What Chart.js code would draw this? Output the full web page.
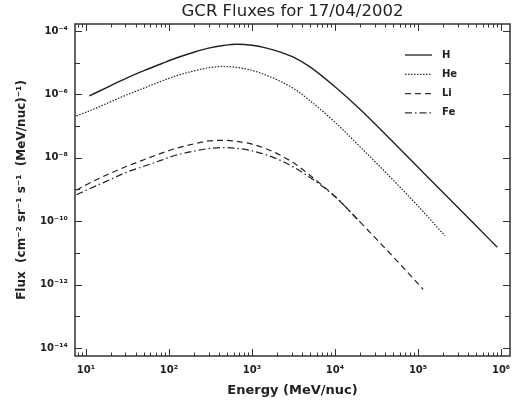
<!DOCTYPE html>
<html>
<head>
<meta charset="utf-8">
<script src="https://cdn.jsdelivr.net/npm/chart.js@4"></script>
<style>
  html, body { margin: 0; padding: 0; background: #fff; }
  canvas { display: block; }
</style>
</head>
<body>
<canvas id="Graph" width="514" height="407"></canvas>
<script>
// values (energy in MeV/nuc, flux in cm^-2 sr^-1 s^-1 (MeV/nuc)^-1)
const hEnergy = [11, 20, 30, 50, 80, 120, 200, 300, 450, 650, 1000, 1500, 2200, 3200, 5000, 1e4, 2e4, 5e4, 1e5, 2e5, 5e5, 9e5];
const hFlux = [8.9e-7, 1.9e-6, 3.16e-6, 5.6e-6, 9.1e-6, 1.38e-5, 2.14e-5, 2.88e-5, 3.47e-5, 3.8e-5, 3.55e-5, 2.88e-5, 2.14e-5, 1.48e-5, 7.4e-6, 1.74e-6, 3.4e-7, 3.16e-8, 5.0e-9, 8.1e-10, 7.2e-11, 1.5e-11];

const heEnergy = [7.7, 11, 20, 30, 50, 80, 120, 200, 300, 450, 650, 1000, 1500, 2200, 3200, 5000, 1e4, 2e4, 5e4, 1e5, 2.1e5];
const heFlux = [2.1e-7, 3.0e-7, 5.9e-7, 9.3e-7, 1.58e-6, 2.57e-6, 3.8e-6, 5.5e-6, 6.9e-6, 7.6e-6, 7.1e-6, 5.75e-6, 4.0e-6, 2.57e-6, 1.51e-6, 6.3e-7, 1.32e-7, 2.24e-8, 2.0e-9, 3.0e-10, 3.5e-11];

const liEnergy = [7.7, 11, 20, 30, 50, 80, 120, 200, 300, 450, 650, 1000, 1500, 2200, 3200, 5000, 1e4, 2e4, 5e4, 1e5, 1.15e5];
const liFlux = [9.5e-10, 1.58e-9, 3.3e-9, 5.2e-9, 8.7e-9, 1.38e-8, 1.95e-8, 2.75e-8, 3.4e-8, 3.55e-8, 3.3e-8, 2.7e-8, 1.9e-8, 1.2e-8, 6.8e-9, 2.8e-9, 6.0e-10, 9.5e-11, 7.6e-12, 1.07e-12, 7.1e-13];

const feEnergy = [7.7, 11, 20, 30, 50, 80, 120, 200, 300, 450, 650, 1000, 1500, 2200, 3200, 5000, 1e4, 2e4];
const feFlux = [6.8e-10, 1.05e-9, 2.1e-9, 3.4e-9, 5.4e-9, 8.3e-9, 1.2e-8, 1.62e-8, 1.95e-8, 2.1e-8, 2.0e-8, 1.66e-8, 1.23e-8, 8.3e-9, 5.0e-9, 2.4e-9, 6.0e-10, 9.5e-11];

const seriesNames = ['H', 'He', 'Li', 'Fe'];
const xTickValues = [1e1, 1e2, 1e3, 1e4, 1e5, 1e6];
const yTickValues = [1e-4, 1e-6, 1e-8, 1e-10, 1e-12, 1e-14];

const INK = '#222';
const SUP = { '0': '⁰', '1': '¹', '2': '²', '3': '³', '4': '⁴', '5': '⁵', '6': '⁶', '7': '⁷', '8': '⁸', '9': '⁹', '-': '⁻' };

// 10^n label with unicode superscripts
function powLabel(v) {
  const e = String(Math.round(Math.log10(v)));
  return '10' + e.split('').map(c => SUP[c]).join('');
}

function toPoints(xs, ys) {
  return xs.map((x, i) => ({ x: x, y: ys[i] }));
}

// frame box and inward ticks on all four sides, like the original plot
const frameTicks = {
  id: 'frameTicks',
  afterDatasetsDraw(chart) {
    const { ctx, chartArea: a, scales: { x, y } } = chart;
    ctx.save();
    ctx.strokeStyle = '#333';
    ctx.lineWidth = 1;
    ctx.beginPath();
    for (let d = 0; d <= 6; d++) {
      for (let m = 1; m <= 9; m++) {
        const v = m * Math.pow(10, d);
        if (v < x.min || v > x.max) continue;
        const px = Math.round(x.getPixelForValue(v)) + 0.5;
        const len = m === 1 ? 7 : 3.5;
        ctx.moveTo(px, a.bottom); ctx.lineTo(px, a.bottom - len);
        ctx.moveTo(px, a.top); ctx.lineTo(px, a.top + len);
      }
    }
    for (let e = -15; e <= -3; e++) {
      const v = Math.pow(10, e);
      if (v < y.min || v > y.max) continue;
      const py = Math.round(y.getPixelForValue(v)) + 0.5;
      const len = e % 2 === 0 ? 7 : 5;
      ctx.moveTo(a.left, py); ctx.lineTo(a.left + len, py);
      ctx.moveTo(a.right, py); ctx.lineTo(a.right - len, py);
    }
    ctx.stroke();
    ctx.lineWidth = 1.5;
    ctx.strokeRect(a.left, a.top, a.right - a.left, a.bottom - a.top);

    // title
    ctx.fillStyle = INK;
    ctx.font = '16.5px "DejaVu Sans"';
    ctx.textAlign = 'center';
    ctx.textBaseline = 'middle';
    ctx.fillText('GCR Fluxes for 17/04/2002', (a.left + a.right) / 2, 12);

    // legend in the upper right corner
    ctx.font = 'bold 10px "DejaVu Sans"';
    ctx.textAlign = 'left';
    chart.data.datasets.forEach((ds, i) => {
      const ly = 55 + i * 19.3;
      ctx.setLineDash(ds.borderDash || []);
      ctx.lineWidth = ds.borderWidth;
      ctx.beginPath();
      ctx.moveTo(405, ly);
      ctx.lineTo(432, ly);
      ctx.stroke();
      ctx.setLineDash([]);
      ctx.fillText(ds.label, 442, ly);
    });
    ctx.restore();
  }
};

const tickFont = { family: 'DejaVu Sans', size: 10, weight: 'bold' };

const ctx = document.getElementById('Graph').getContext('2d');
new Chart(ctx, {
  type: 'line',
  data: {
    datasets: [
      { label: seriesNames[0], data: toPoints(hEnergy, hFlux), borderWidth: 1.4 },
      { label: seriesNames[1], data: toPoints(heEnergy, heFlux), borderWidth: 1.2, borderDash: [1.5, 1.5] },
      { label: seriesNames[2], data: toPoints(liEnergy, liFlux), borderWidth: 1.2, borderDash: [6, 4] },
      { label: seriesNames[3], data: toPoints(feEnergy, feFlux), borderWidth: 1.2, borderDash: [7, 3, 1.5, 3] },
    ].map(ds => Object.assign(ds, {
      borderColor: INK,
      pointRadius: 0,
      fill: false,
      cubicInterpolationMode: 'monotone',
    })),
  },
  options: {
    responsive: false,
    animation: false,
    layout: { padding: { top: 24, right: 4, left: 0, bottom: 0 } },
    plugins: {
      legend: { display: false },
      title: { display: false },
      tooltip: { enabled: false },
    },
    scales: {
      x: {
        type: 'logarithmic',
        min: 7.4,
        max: 1.28e6,
        grid: { display: false, drawTicks: false },
        border: { display: false },
        afterBuildTicks: s => { s.ticks = xTickValues.map(v => ({ value: v })); },
        afterFit: s => { s.height = 51; s.paddingLeft = 0; s.paddingRight = 0; },
        ticks: { callback: v => powLabel(v), autoSkip: false, maxRotation: 0, padding: 8, font: tickFont, color: INK },
        title: {
          display: true,
          text: 'Energy (MeV/nuc)',
          color: INK,
          font: { family: 'DejaVu Sans', size: 13, weight: 'bold' },
          padding: { top: 0, bottom: 9 },
        },
      },
      y: {
        type: 'logarithmic',
        min: 5.6e-15,
        max: 1.66e-4,
        grid: { display: false, drawTicks: false },
        border: { display: false },
        afterBuildTicks: s => { s.ticks = yTickValues.map(v => ({ value: v })); },
        afterFit: s => { s.width = 75; s.paddingTop = 0; s.paddingBottom = 0; },
        ticks: { callback: v => powLabel(v), autoSkip: false, padding: 7, font: tickFont, color: INK },
        title: {
          display: true,
          text: 'Flux  (cm⁻² sr⁻¹ s⁻¹  (MeV/nuc)⁻¹)',
          color: INK,
          font: { family: 'DejaVu Sans', size: 12, weight: 'bold' },
          padding: { top: 15, bottom: 0 },
        },
      },
    },
  },
  plugins: [frameTicks],
});
</script>
</body>
</html>
